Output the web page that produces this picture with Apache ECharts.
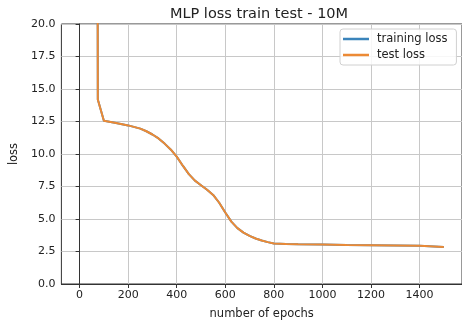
<!DOCTYPE html>
<html>
<head>
<meta charset="utf-8">
<script src="https://cdn.jsdelivr.net/npm/echarts@6/dist/echarts.min.js"></script>
<style>html,body{margin:0;padding:0;background:#fff}#c{width:462px;height:327px}</style>
</head>
<body>
<div id="c"></div>
<script>
const epochs = [70, 75, 100, 150, 200, 250, 275, 300, 325, 350, 375, 400, 425, 450, 475, 500, 525, 550, 575, 600, 625, 650, 675, 700, 725, 750, 775, 800, 850, 900, 1000, 1100, 1200, 1300, 1400, 1500];
const trainLoss = [80, 14.2, 12.55, 12.38, 12.2, 11.95, 11.75, 11.5, 11.2, 10.8, 10.35, 9.8, 9.1, 8.45, 7.95, 7.6, 7.25, 6.85, 6.25, 5.5, 4.8, 4.3, 3.95, 3.7, 3.5, 3.35, 3.22, 3.12, 3.07, 3.05, 3.03, 3.0, 2.98, 2.96, 2.94, 2.85];
const testLoss = [80, 14.2, 12.55, 12.38, 12.2, 11.95, 11.75, 11.5, 11.2, 10.8, 10.35, 9.8, 9.1, 8.45, 7.95, 7.6, 7.25, 6.85, 6.25, 5.5, 4.8, 4.3, 3.95, 3.7, 3.5, 3.35, 3.22, 3.12, 3.07, 3.05, 3.03, 3.0, 2.98, 2.96, 2.94, 2.85];
const xTicks = [0, 200, 400, 600, 800, 1000, 1200, 1400];
const seriesNames = ['training loss', 'test loss'];
const colors = ['#3b84bb', '#ec8a35'];

const font = 'DejaVu Sans';
const chart = echarts.init(document.getElementById('c'), null, {renderer: 'canvas'});
chart.setOption({
  animation: false,
  textStyle: {fontFamily: font},
  title: {
    text: 'MLP loss train test - 10M',
    left: 254, top: 2, textAlign: 'center',
    textStyle: {fontFamily: font, fontSize: 14.5, fontWeight: 'normal', color: '#222'}
  },
  grid: {left: 60, top: 24, right: -2, bottom: 43, show: true, borderColor: '#333', borderWidth: 1},
  legend: {
    orient: 'vertical', left: 340, top: 29,
    padding: [4, 9, 4, 3], itemGap: 4,
    itemWidth: 26, itemHeight: 2.5,
    icon: 'rect',
    backgroundColor: 'rgba(255,255,255,0.85)',
    borderColor: '#d0d0d0', borderWidth: 1, borderRadius: 3,
    textStyle: {fontFamily: font, fontSize: 11.5, color: '#222', padding: [0, 0, 0, 3]},
    data: seriesNames
  },
  xAxis: {
    type: 'value', min: -75, max: 1575,
    name: 'number of epochs', nameLocation: 'middle', nameGap: 24,
    nameTextStyle: {fontFamily: font, fontSize: 11.5, color: '#222'},
    axisLine: {show: true, lineStyle: {color: '#333', width: 1}},
    axisTick: {show: true, length: 4, inside: false, customValues: xTicks, lineStyle: {color: '#333'}},
    axisLabel: {customValues: xTicks, fontFamily: font, fontSize: 11, color: '#222', margin: 6, formatter: v => String(v)},
    splitLine: {show: true, lineStyle: {color: '#c8c8c8', width: 1}}
  },
  yAxis: {
    type: 'value', min: 0, max: 20, interval: 2.5,
    name: 'loss', nameLocation: 'middle', nameGap: 40,
    nameTextStyle: {fontFamily: font, fontSize: 11.5, color: '#222'},
    axisLine: {show: true, lineStyle: {color: '#333', width: 1}},
    axisTick: {show: true, length: 4, lineStyle: {color: '#333'}},
    axisLabel: {fontFamily: font, fontSize: 11, color: '#222', margin: 6, formatter: v => v.toFixed(1)},
    splitLine: {show: true, lineStyle: {color: '#c8c8c8', width: 1}}
  },
  series: [
    {name: seriesNames[0], type: 'line', data: epochs.map((e, i) => [e, trainLoss[i]]), showSymbol: false, smooth: false, clip: true,
     lineStyle: {color: colors[0], width: 2}, itemStyle: {color: colors[0]}},
    {name: seriesNames[1], type: 'line', data: epochs.map((e, i) => [e, testLoss[i]]), showSymbol: false, smooth: false, clip: true,
     lineStyle: {color: colors[1], width: 2}, itemStyle: {color: colors[1]}}
  ]
});
</script>
</body>
</html>
